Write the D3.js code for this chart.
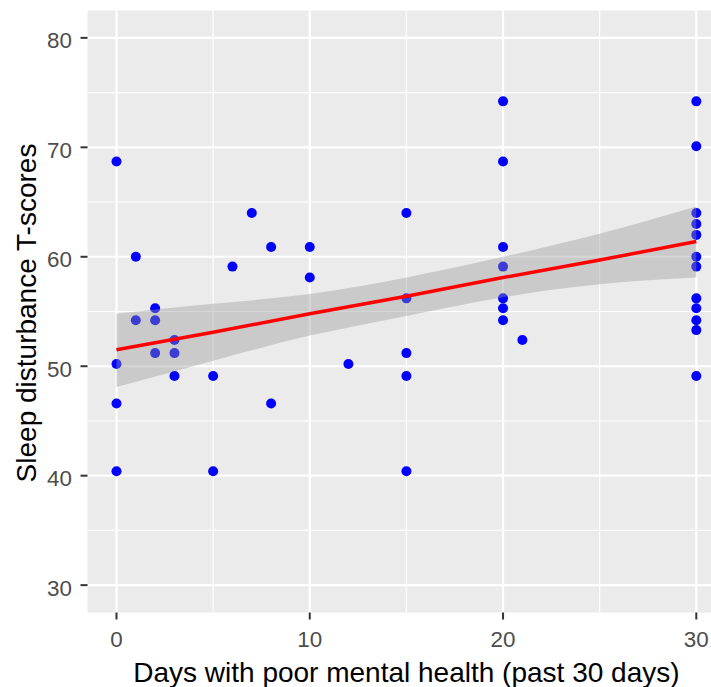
<!DOCTYPE html>
<html>
<head>
<meta charset="utf-8">
<script src="https://cdn.jsdelivr.net/npm/d3@7"></script>
<style>
  html, body { margin: 0; padding: 0; background: #ffffff; }
  svg { display: block; }
</style>
</head>
<body>
<script>
// Respondents: days with poor mental health (past 30 days) and sleep disturbance T-score
const days = [
  0, 0, 0, 0,
  1, 1,
  2, 2, 2,
  3, 3, 3,
  5, 5,
  6,
  7,
  8, 8,
  10, 10,
  12,
  15, 15, 15, 15, 15,
  20, 20, 20, 20, 20, 20, 20,
  21,
  30, 30, 30, 30, 30, 30, 30, 30, 30, 30, 30, 30
];
const sleepT = [
  68.7, 50.2, 46.6, 40.4,
  60.0, 54.2,
  55.3, 54.2, 51.2,
  52.4, 51.2, 49.1,
  49.1, 40.4,
  59.1,
  64.0,
  60.9, 46.6,
  60.9, 58.1,
  50.2,
  64.0, 56.2, 51.2, 49.1, 40.4,
  74.2, 68.7, 60.9, 59.1, 56.2, 55.3, 54.2,
  52.4,
  74.2, 70.1, 64.0, 63.0, 62.0, 60.0, 59.1, 56.2, 55.3, 54.2, 53.3, 49.1
];

// Linear fit with its 95% confidence band
const fitDays  = [0, 5, 10, 15, 20, 25, 30];
const fitValue = [51.5, 53.1, 54.8, 56.4, 58.1, 59.7, 61.4];
const fitLower = [48.1, 50.5, 52.8, 54.6, 56.3, 57.5, 58.1];
const fitUpper = [54.8, 55.7, 56.6, 58.1, 60.0, 62.1, 64.6];

// Axis breaks
const xMajor = [0, 10, 20, 30];
const xMinor = [5, 15, 25];
const yMajor = [30, 40, 50, 60, 70, 80];
const yMinor = [35, 45, 55, 65, 75];

const W = 711, H = 687;
const panel = { left: 87.5, top: 10.5, right: 725.3, bottom: 612.5 };

const svg = d3.select("body").append("svg")
  .attr("width", W).attr("height", H);

const x = d3.scaleLinear().domain([-1.5, 31.5]).range([panel.left, panel.right]);
const y = d3.scaleLinear().domain([27.5, 82.5]).range([panel.bottom, panel.top]);

const font = "'Liberation Sans', Arial, 'DejaVu Sans', sans-serif";

// panel background
svg.append("rect")
  .attr("x", panel.left).attr("y", panel.top)
  .attr("width", panel.right - panel.left)
  .attr("height", panel.bottom - panel.top)
  .attr("fill", "#ebebeb");

const grid = svg.append("g");
grid.selectAll("line.ymin").data(yMinor).join("line")
  .attr("x1", panel.left).attr("x2", panel.right)
  .attr("y1", d => y(d)).attr("y2", d => y(d))
  .attr("stroke", "#ffffff").attr("stroke-width", 1.1);
grid.selectAll("line.xmin").data(xMinor).join("line")
  .attr("y1", panel.top).attr("y2", panel.bottom)
  .attr("x1", d => x(d)).attr("x2", d => x(d))
  .attr("stroke", "#ffffff").attr("stroke-width", 1.1);
grid.selectAll("line.ymaj").data(yMajor).join("line")
  .attr("x1", panel.left).attr("x2", panel.right)
  .attr("y1", d => y(d)).attr("y2", d => y(d))
  .attr("stroke", "#ffffff").attr("stroke-width", 2.2);
grid.selectAll("line.xmaj").data(xMajor).join("line")
  .attr("y1", panel.top).attr("y2", panel.bottom)
  .attr("x1", d => x(d)).attr("x2", d => x(d))
  .attr("stroke", "#ffffff").attr("stroke-width", 2.2);

// points
svg.append("g").selectAll("circle")
  .data(days.map((d, i) => [d, sleepT[i]]))
  .join("circle")
  .attr("cx", d => x(d[0]))
  .attr("cy", d => y(d[1]))
  .attr("r", 5)
  .attr("fill", "#0000ff");

// confidence band
const fitRows = fitDays.map((d, i) => ({ d, v: fitValue[i], lo: fitLower[i], hi: fitUpper[i] }));
svg.append("path")
  .datum(fitRows)
  .attr("d", d3.area()
    .x(r => x(r.d))
    .y0(r => y(r.lo))
    .y1(r => y(r.hi))
    .curve(d3.curveNatural))
  .attr("fill", "#999999")
  .attr("fill-opacity", 0.4);

// fitted line
svg.append("path")
  .datum(fitRows)
  .attr("d", d3.line().x(r => x(r.d)).y(r => y(r.v)))
  .attr("fill", "none")
  .attr("stroke", "#ff0000")
  .attr("stroke-width", 3.5);

// y axis ticks and labels
const yAxis = svg.append("g");
yAxis.selectAll("line").data(yMajor).join("line")
  .attr("x1", panel.left - 7).attr("x2", panel.left)
  .attr("y1", d => y(d)).attr("y2", d => y(d))
  .attr("stroke", "#333333").attr("stroke-width", 2);
yAxis.selectAll("text").data(yMajor).join("text")
  .attr("x", panel.left - 15.5)
  .attr("y", d => y(d) + 10.5)
  .attr("text-anchor", "end")
  .attr("font-family", font)
  .attr("font-size", 22.4)
  .attr("fill", "#4d4d4d")
  .text(d => d);

// x axis ticks and labels
const xAxis = svg.append("g");
xAxis.selectAll("line").data(xMajor).join("line")
  .attr("y1", panel.bottom).attr("y2", panel.bottom + 7)
  .attr("x1", d => x(d)).attr("x2", d => x(d))
  .attr("stroke", "#333333").attr("stroke-width", 2);
xAxis.selectAll("text").data(xMajor).join("text")
  .attr("x", d => x(d))
  .attr("y", 646.7)
  .attr("text-anchor", "middle")
  .attr("font-family", font)
  .attr("font-size", 22.4)
  .attr("fill", "#4d4d4d")
  .text(d => d);

// axis titles
svg.append("text")
  .attr("x", (panel.left + panel.right) / 2)
  .attr("y", 682)
  .attr("text-anchor", "middle")
  .attr("font-family", font)
  .attr("font-size", 28)
  .attr("fill", "#000000")
  .text("Days with poor mental health (past 30 days)");

svg.append("text")
  .attr("transform", `translate(35.5, ${(panel.top + panel.bottom) / 2 + 1.5}) rotate(-90)`)
  .attr("text-anchor", "middle")
  .attr("font-family", font)
  .attr("font-size", 28)
  .attr("fill", "#000000")
  .text("Sleep disturbance T-scores");
</script>
</body>
</html>
